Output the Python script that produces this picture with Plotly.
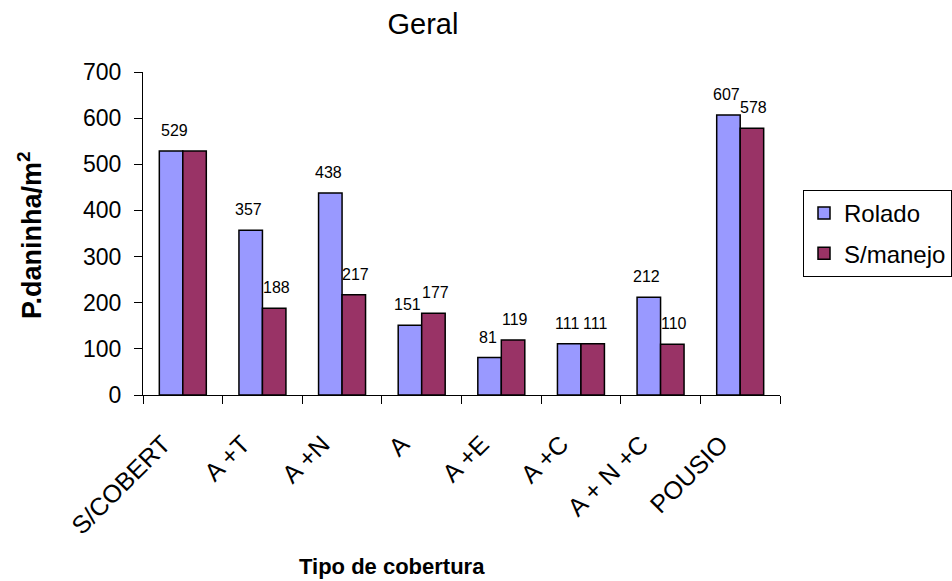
import plotly.graph_objects as go

# Weed density per cover type, two management treatments
categories = ["S/COBERT", "A +T", "A +N", "A", "A +E", "A +C", "A + N +C", "POUSIO"]
rolado = [529, 357, 438, 151, 81, 111, 212, 607]
s_manejo = [529, 188, 217, 177, 119, 111, 110, 578]

# Value labels shown above the bars (None = no label drawn)
rolado_labels = [None, "357", "438", "151", "81", "111", "212", "607"]
s_manejo_labels = ["529", "188", "217", "177", "119", "111", "110", "578"]

FONT = "Liberation Sans, Arial, Helvetica, sans-serif"
W, H = 952, 581
L, R, T, B = 143, 172, 72, 186
PW, PH = W - L - R, H - T - B

fig = go.Figure()
fig.add_trace(go.Bar(
    name="Rolado", x=categories, y=rolado, legendgroup="a",
    marker=dict(color="#9999FF", line=dict(color="black", width=1.5)),
))
fig.add_trace(go.Bar(
    name="S/manejo", x=categories, y=s_manejo, legendgroup="b",
    marker=dict(color="#993366", line=dict(color="black", width=1.5)),
))

# bar geometry in px, used to centre labels over each bar
cat_w = PW / len(categories)
bargap = 0.41
bar_w = cat_w * (1 - bargap) / 2

annotations = []
for i, c in enumerate(categories):
    for vals, labs, sign in ((rolado, rolado_labels, -1), (s_manejo, s_manejo_labels, 1)):
        if labs[i] is None:
            continue
        dx = sign * (bar_w / 2 + 2)
        if i == 0:
            dx = -bar_w / 2 + 3
        annotations.append(dict(
            x=c, y=vals[i], xref="x", yref="y", text=labs[i], showarrow=False,
            xshift=dx, yshift=10, yanchor="bottom",
            font=dict(family=FONT, size=16, color="black"),
        ))

# axis titles
annotations.append(dict(
    x=(392 - L) / PW, y=(H - B - 566) / PH, xref="paper", yref="paper",
    text="<b>Tipo de cobertura</b>", showarrow=False,
    font=dict(family=FONT, size=22, color="black"),
    xanchor="center", yanchor="middle",
))
annotations.append(dict(
    x=(30 - L) / PW, y=(H - B - 235) / PH, xref="paper", yref="paper",
    text="<b>P.daninha/m<sup>2</sup></b>", showarrow=False, textangle=-90,
    font=dict(family=FONT, size=27, color="black"),
    xanchor="center", yanchor="middle",
))

fig.update_layout(
    width=W, height=H,
    margin=dict(l=L, r=R, t=T, b=B, autoexpand=False),
    paper_bgcolor="white", plot_bgcolor="white",
    barmode="group", bargap=bargap, bargroupgap=0,
    annotations=annotations,
    title=dict(
        text="Geral", x=423 / W, xanchor="center", xref="container",
        y=1 - 24 / H, yanchor="middle", yref="container",
        font=dict(family=FONT, size=29, color="black"),
    ),
    font=dict(family=FONT, color="black"),
    legend=dict(
        x=(803 - L) / PW, xanchor="left",
        y=(H - B - 190) / PH, yanchor="top",
        bordercolor="black", borderwidth=1, bgcolor="white",
        font=dict(family=FONT, size=24, color="black"),
        tracegroupgap=6,
    ),
    xaxis=dict(
        showline=True, linecolor="black", linewidth=1,
        ticks="outside", tickson="boundaries", ticklen=8, tickcolor="black",
        tickmode="array", tickvals=categories,
        ticktext=[c + "\u00a0\u00a0\u00a0\u00a0" for c in categories],
        tickangle=-45, tickfont=dict(family=FONT, size=25, color="black"),
        ticklabelstandoff=4, showgrid=False,
    ),
    yaxis=dict(
        range=[0, 700], tickvals=[0, 100, 200, 300, 400, 500, 600, 700],
        showline=True, linecolor="black", linewidth=1,
        ticks="outside", ticklen=8, tickcolor="black",
        tickfont=dict(family=FONT, size=23, color="black"),
        showgrid=False, zeroline=False, ticklabelstandoff=8,
    ),
)

fig.write_html("out.html")
